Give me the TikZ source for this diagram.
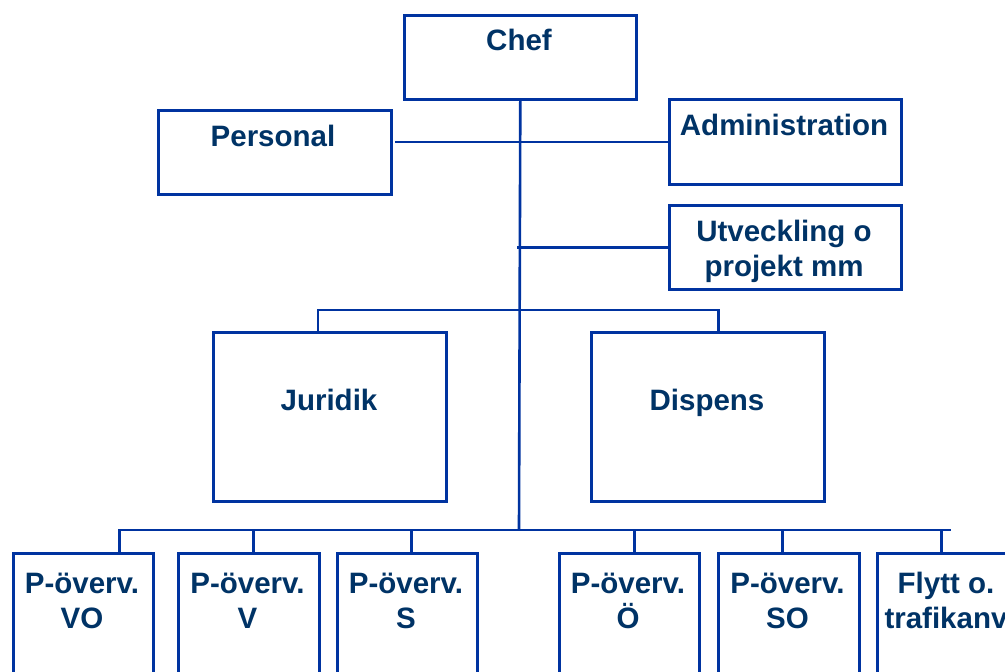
\documentclass[tikz,border=0pt]{standalone}
\usepackage{fontspec}
\setmainfont{Liberation Sans}
\usetikzlibrary{positioning}
\definecolor{orgline}{RGB}{0,51,160}
\definecolor{orgtext}{RGB}{0,51,102}
\tikzset{
  unit box/.style={draw=orgline, line width=2.6pt, anchor=north west, inner sep=0pt},
  unit text/.style={text=orgtext, font=\fontsize{29.5}{34.5}\selectfont\bfseries, align=center, anchor=base, inner sep=0pt},
  link/.style={draw=orgline, line width=2.6pt},
}
\begin{document}
\begin{tikzpicture}[x=1pt,y=-1pt]
\useasboundingbox[fill=white] (0,0) rectangle (1005,672);
\clip (0,0) rectangle (1005,672);
%the boxes
\node [unit box, minimum width=232, minimum height=84] (chef) at (403,14) {};
\node [unit box, minimum width=233, minimum height=84] (personal) at (157,109) {};
\node [unit box, minimum width=232, minimum height=85] (admin) at (668,98) {};
\node [unit box, minimum width=232, minimum height=84] (utv) at (668,204) {};
\node [unit box, minimum width=233, minimum height=169] (juridik) at (212,331) {};
\node [unit box, minimum width=233, minimum height=169] (dispens) at (590,331) {};
\node [unit box, minimum width=140, minimum height=140] (vo) at (12,552) {};
\node [unit box, minimum width=141, minimum height=140] (v) at (177,552) {};
\node [unit box, minimum width=140, minimum height=140] (s) at (336,552) {};
\node [unit box, minimum width=140, minimum height=140] (oe) at (558,552) {};
\node [unit box, minimum width=141, minimum height=140] (so) at (717,552) {};
\node [unit box, minimum width=140, minimum height=140] (flytt) at (876,552) {};
%the texts (base = last line)
\node [unit text] (chefT) at (519,50) {Chef};
\node [unit text] (personalT) at (273,146) {Personal};
\node [unit text] (adminT) at (784,135) {Administration};
\node [unit text] (utvT) at (784,276) {Utveckling o\\projekt mm};
\node [unit text] (juridikT) at (329,410) {Juridik};
\node [unit text] (dispensT) at (707,410) {Dispens};
\node [unit text] (voT) at (82,628) {P-överv.\\VO};
\node [unit text] (vT) at (247.5,628) {P-överv.\\V};
\node [unit text] (sT) at (406,628) {P-överv.\\S};
\node [unit text] (oeT) at (628,628) {P-överv.\\Ö};
\node [unit text] (soT) at (787.5,628) {P-överv.\\SO};
\node [unit text] (flyttT) at (946,628) {Flytt o.\\trafikanv};
%the lines
\coordinate (spine) at (519,530);
\coordinate (busL) at (118,530);
\coordinate (busR) at (951,530);
\draw[link] (chef.south) -- (spine);
\draw[link] (admin.west) -- ([xshift=2pt]personal.east |- admin.west);
\draw[link] (utv.west) -- ([xshift=-3pt]chef.south |- utv.west);
\draw[link] ([xshift=-12]juridik.north) -- ++(0,-21) -| ([xshift=10.5]dispens.north);
\draw[link] (busL) -- (busR);
\foreach \n/\dx in {vo/36, v/4.5, s/4, oe/5, so/-6.5, flytt/-6}
  \draw[link] ([xshift=\dx]\n.north) -- ++(0,-22);
\end{tikzpicture}
\end{document}
